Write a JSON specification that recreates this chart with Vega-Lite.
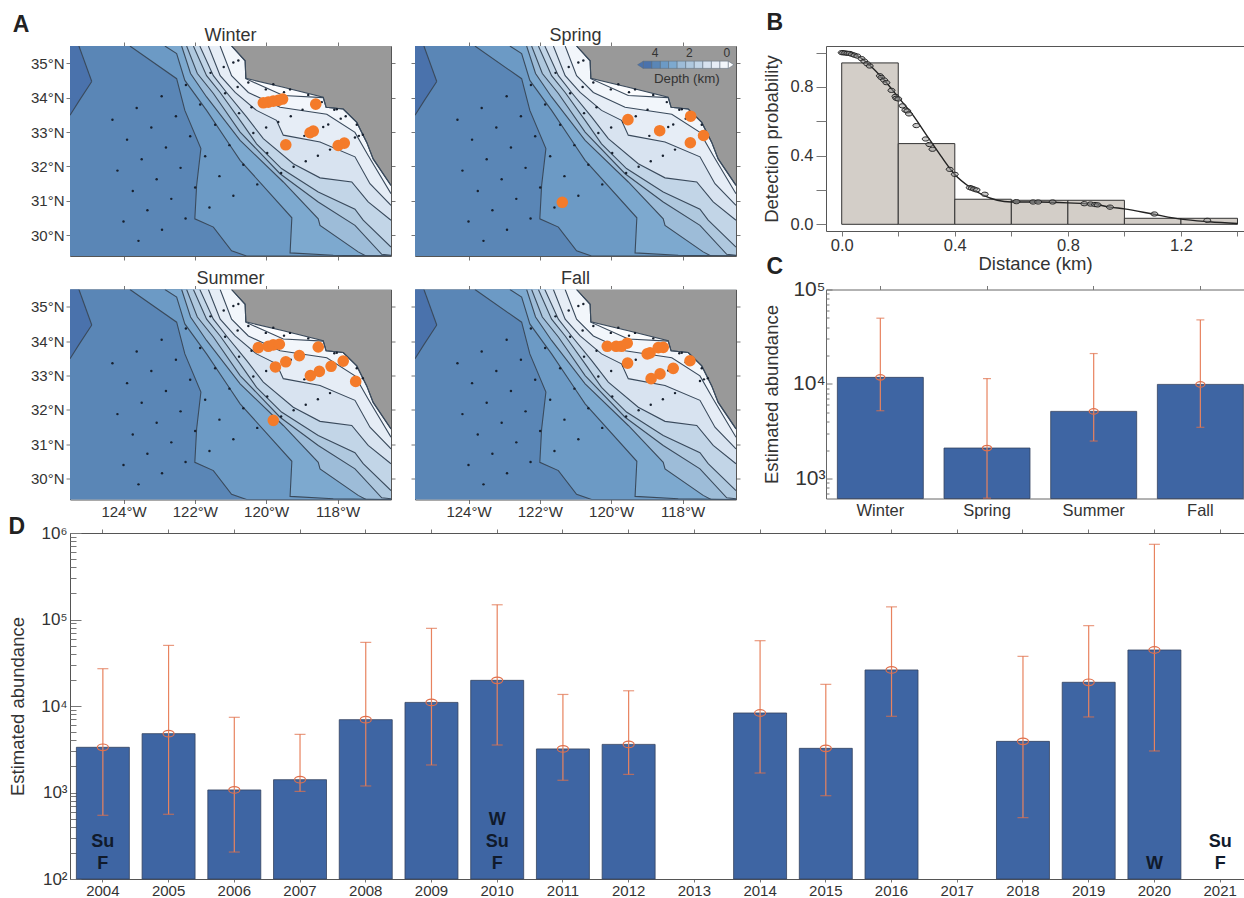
{"$schema":"https://vega.github.io/schema/vega-lite/v6.json","background":"white","padding":{"left":8,"top":11,"right":0,"bottom":0},"autosize":{"type":"pad"},
"config":{"font":"Liberation Sans","view":{"stroke":null},"axis":{"grid":false,"domainColor":"#555","tickColor":"#777","labelColor":"#333","titleColor":"#333","labelFontSize":15,"titleFontSize":18,"titleFontWeight":"normal","tickSize":4,"zindex":1,"labelOverlap":false,"labelFlush":false}},
"datasets":{
"abund":[{"year":"2004","est":3330,"lo":545,"hi":27000},{"year":"2005","est":4790,"lo":560,"hi":50200},{"year":"2006","est":1070,"lo":205,"hi":7400},{"year":"2007","est":1406,"lo":1030,"hi":4700},{"year":"2008","est":6950,"lo":1190,"hi":54400},{"year":"2009","est":11000,"lo":2080,"hi":79000},{"year":"2010","est":19800,"lo":3540,"hi":148000},{"year":"2011","est":3190,"lo":1385,"hi":13600},{"year":"2012","est":3600,"lo":1620,"hi":15000},{"year":"2014","est":8300,"lo":1680,"hi":56900},{"year":"2015","est":3240,"lo":918,"hi":17800},{"year":"2016","est":26100,"lo":7600,"hi":140000},{"year":"2018","est":3900,"lo":512,"hi":37500},{"year":"2019","est":18800,"lo":7470,"hi":84900},{"year":"2020","est":44400,"lo":3020,"hi":740000}],
"bands":[
{"lvl":"b1","seq":0,"lon":-125.5,"lat":29.4,"top":35.5},{"lvl":"b1","seq":1,"lon":-116.5,"lat":29.4,"top":35.5},
{"lvl":"b0","seq":0,"lon":-125.5,"lat":33.49,"top":35.5},{"lvl":"b0","seq":1,"lon":-125.25,"lat":33.9,"top":35.5},{"lvl":"b0","seq":2,"lon":-124.89,"lat":34.47,"top":34.47},
{"lvl":"b0a","seq":0,"lon":-125.25,"lat":35.5,"top":35.5},{"lvl":"b0a","seq":1,"lon":-124.89,"lat":34.47,"top":34.47},
{"lvl":"c1","seq":0,"lon":-123.82,"lat":35.5,"top":35.5},{"lvl":"c1","seq":1,"lon":-122.51,"lat":34.55,"top":35.5},{"lvl":"c1","seq":2,"lon":-122.28,"lat":33.63,"top":35.5},{"lvl":"c1","seq":3,"lon":-121.83,"lat":32.52,"top":35.5},{"lvl":"c1","seq":4,"lon":-121.95,"lat":31.45,"top":35.5},{"lvl":"c1","seq":5,"lon":-122.0,"lat":30.48,"top":35.5},{"lvl":"c1","seq":6,"lon":-121.48,"lat":30.24,"top":35.5},{"lvl":"c1","seq":7,"lon":-120.97,"lat":29.55,"top":35.5},{"lvl":"c1","seq":8,"lon":-120.55,"lat":29.4,"top":35.5},{"lvl":"c1","seq":9,"lon":-116.5,"lat":29.4,"top":35.5},
{"lvl":"c2","seq":0,"lon":-122.84,"lat":35.5,"top":35.5},{"lvl":"c2","seq":1,"lon":-122.51,"lat":35.28,"top":35.5},{"lvl":"c2","seq":2,"lon":-122.28,"lat":34.5,"top":35.5},{"lvl":"c2","seq":3,"lon":-121.67,"lat":33.63,"top":35.5},{"lvl":"c2","seq":4,"lon":-121.01,"lat":32.61,"top":35.5},{"lvl":"c2","seq":5,"lon":-120.73,"lat":32.18,"top":35.5},{"lvl":"c2","seq":6,"lon":-119.28,"lat":30.51,"top":35.5},{"lvl":"c2","seq":7,"lon":-119.33,"lat":29.49,"top":35.5},{"lvl":"c2","seq":8,"lon":-118.12,"lat":29.42,"top":35.5},{"lvl":"c2","seq":9,"lon":-116.5,"lat":29.4,"top":35.5},
{"lvl":"c3","seq":0,"lon":-122.37,"lat":35.5,"top":35.5},{"lvl":"c3","seq":1,"lon":-122.12,"lat":34.7,"top":35.5},{"lvl":"c3","seq":2,"lon":-121.67,"lat":34.02,"top":35.5},{"lvl":"c3","seq":3,"lon":-120.73,"lat":32.76,"top":35.5},{"lvl":"c3","seq":4,"lon":-119.52,"lat":31.55,"top":35.5},{"lvl":"c3","seq":5,"lon":-118.54,"lat":30.48,"top":35.5},{"lvl":"c3","seq":6,"lon":-118.49,"lat":30.29,"top":35.5},{"lvl":"c3","seq":7,"lon":-117.42,"lat":29.52,"top":35.5},{"lvl":"c3","seq":8,"lon":-117.2,"lat":29.4,"top":35.5},{"lvl":"c3","seq":9,"lon":-116.5,"lat":29.4,"top":35.5},
{"lvl":"c4","seq":0,"lon":-122.23,"lat":35.5,"top":35.5},{"lvl":"c4","seq":1,"lon":-121.93,"lat":34.7,"top":35.5},{"lvl":"c4","seq":2,"lon":-121.48,"lat":34.12,"top":35.5},{"lvl":"c4","seq":3,"lon":-120.73,"lat":33.0,"top":35.5},{"lvl":"c4","seq":4,"lon":-119.61,"lat":31.79,"top":35.5},{"lvl":"c4","seq":5,"lon":-118.54,"lat":30.97,"top":35.5},{"lvl":"c4","seq":6,"lon":-117.51,"lat":30.29,"top":35.5},{"lvl":"c4","seq":7,"lon":-116.76,"lat":29.45,"top":35.5},{"lvl":"c4","seq":8,"lon":-116.5,"lat":29.42,"top":35.5},
{"lvl":"c5","seq":0,"lon":-122.04,"lat":35.5,"top":35.5},{"lvl":"c5","seq":1,"lon":-121.67,"lat":34.64,"top":35.5},{"lvl":"c5","seq":2,"lon":-121.29,"lat":34.15,"top":35.5},{"lvl":"c5","seq":3,"lon":-120.73,"lat":33.34,"top":35.5},{"lvl":"c5","seq":4,"lon":-120.27,"lat":32.66,"top":35.5},{"lvl":"c5","seq":5,"lon":-119.57,"lat":31.94,"top":35.5},{"lvl":"c5","seq":6,"lon":-118.54,"lat":31.26,"top":35.5},{"lvl":"c5","seq":7,"lon":-117.51,"lat":30.76,"top":35.5},{"lvl":"c5","seq":8,"lon":-117.28,"lat":30.44,"top":35.5},{"lvl":"c5","seq":9,"lon":-116.5,"lat":29.66,"top":35.5},
{"lvl":"c6","seq":0,"lon":-121.86,"lat":35.5,"top":35.5},{"lvl":"c6","seq":1,"lon":-121.48,"lat":34.64,"top":35.5},{"lvl":"c6","seq":2,"lon":-121.11,"lat":34.15,"top":35.5},{"lvl":"c6","seq":3,"lon":-120.55,"lat":33.44,"top":35.5},{"lvl":"c6","seq":4,"lon":-120.08,"lat":32.81,"top":35.5},{"lvl":"c6","seq":5,"lon":-119.24,"lat":32.08,"top":35.5},{"lvl":"c6","seq":6,"lon":-118.49,"lat":31.67,"top":35.5},{"lvl":"c6","seq":7,"lon":-117.6,"lat":31.55,"top":35.5},{"lvl":"c6","seq":8,"lon":-117.14,"lat":30.97,"top":35.5},{"lvl":"c6","seq":9,"lon":-116.5,"lat":30.44,"top":35.5},
{"lvl":"c7","seq":0,"lon":-121.62,"lat":35.5,"top":35.5},{"lvl":"c7","seq":1,"lon":-121.29,"lat":34.64,"top":35.5},{"lvl":"c7","seq":2,"lon":-120.87,"lat":34.15,"top":35.5},{"lvl":"c7","seq":3,"lon":-120.27,"lat":33.63,"top":35.5},{"lvl":"c7","seq":4,"lon":-119.71,"lat":33.34,"top":35.5},{"lvl":"c7","seq":5,"lon":-119.52,"lat":32.91,"top":35.5},{"lvl":"c7","seq":6,"lon":-118.49,"lat":32.71,"top":35.5},{"lvl":"c7","seq":7,"lon":-117.51,"lat":32.28,"top":35.5},{"lvl":"c7","seq":8,"lon":-117.09,"lat":31.5,"top":35.5},{"lvl":"c7","seq":9,"lon":-116.5,"lat":30.87,"top":35.5},
{"lvl":"c8","seq":0,"lon":-121.29,"lat":35.5,"top":35.5},{"lvl":"c8","seq":1,"lon":-120.97,"lat":34.64,"top":35.5},{"lvl":"c8","seq":2,"lon":-120.5,"lat":34.15,"top":35.5},{"lvl":"c8","seq":3,"lon":-119.61,"lat":33.72,"top":35.5},{"lvl":"c8","seq":4,"lon":-118.96,"lat":33.62,"top":35.5},{"lvl":"c8","seq":5,"lon":-118.3,"lat":33.52,"top":35.5},{"lvl":"c8","seq":6,"lon":-117.51,"lat":32.99,"top":35.5},{"lvl":"c8","seq":7,"lon":-117.14,"lat":32.32,"top":35.5},{"lvl":"c8","seq":8,"lon":-116.5,"lat":31.21,"top":35.5},
{"lvl":"c9","seq":0,"lon":-120.97,"lat":35.5,"top":35.5},{"lvl":"c9","seq":1,"lon":-120.59,"lat":35.07,"top":35.5},{"lvl":"c9","seq":2,"lon":-120.57,"lat":34.55,"top":35.5},{"lvl":"c9","seq":3,"lon":-119.52,"lat":34.06,"top":35.5},{"lvl":"c9","seq":4,"lon":-118.4,"lat":34.0,"top":35.5},{"lvl":"c9","seq":5,"lon":-118.32,"lat":33.72,"top":35.5},{"lvl":"c9","seq":6,"lon":-117.84,"lat":33.67,"top":35.5},{"lvl":"c9","seq":7,"lon":-117.46,"lat":33.28,"top":35.5},{"lvl":"c9","seq":8,"lon":-117.18,"lat":32.7,"top":35.5},{"lvl":"c9","seq":9,"lon":-117.0,"lat":32.22,"top":35.5},{"lvl":"c9","seq":10,"lon":-116.5,"lat":31.45,"top":35.5},
{"lvl":"z","seq":0,"lon":-120.97,"lat":35.5,"top":35.5},{"lvl":"z","seq":1,"lon":-120.59,"lat":35.07,"top":35.5},{"lvl":"z","seq":2,"lon":-120.57,"lat":34.56,"top":35.5},{"lvl":"z","seq":3,"lon":-119.52,"lat":34.3,"top":35.5},{"lvl":"z","seq":4,"lon":-118.4,"lat":34.01,"top":35.5},{"lvl":"z","seq":5,"lon":-118.32,"lat":33.72,"top":35.5},{"lvl":"z","seq":6,"lon":-117.84,"lat":33.67,"top":35.5},{"lvl":"z","seq":7,"lon":-117.46,"lat":33.28,"top":35.5},{"lvl":"z","seq":8,"lon":-117.18,"lat":32.7,"top":35.5},{"lvl":"z","seq":9,"lon":-117.0,"lat":32.22,"top":35.5},{"lvl":"z","seq":10,"lon":-116.5,"lat":31.45,"top":35.5}
],
"stations":[{"lon":-123.58,"lat":29.84},{"lon":-124.0,"lat":30.4},{"lon":-122.92,"lat":30.16},{"lon":-123.33,"lat":30.73},{"lon":-122.26,"lat":30.49},{"lon":-123.74,"lat":31.29},{"lon":-122.66,"lat":31.06},{"lon":-124.17,"lat":31.88},{"lon":-123.07,"lat":31.63},{"lon":-121.99,"lat":31.39},{"lon":-121.59,"lat":30.81},{"lon":-120.92,"lat":31.15},{"lon":-120.25,"lat":31.48},{"lon":-121.31,"lat":31.72},{"lon":-122.4,"lat":31.96},{"lon":-123.49,"lat":32.21},{"lon":-122.81,"lat":32.55},{"lon":-123.9,"lat":32.78},{"lon":-123.22,"lat":33.13},{"lon":-122.13,"lat":32.88},{"lon":-121.71,"lat":32.3},{"lon":-120.64,"lat":32.05},{"lon":-121.03,"lat":32.62},{"lon":-121.43,"lat":33.21},{"lon":-122.53,"lat":33.46},{"lon":-123.63,"lat":33.7},{"lon":-124.31,"lat":33.36},{"lon":-122.93,"lat":34.04},{"lon":-121.85,"lat":33.8},{"lon":-122.25,"lat":34.37},{"lon":-121.15,"lat":34.13},{"lon":-120.76,"lat":33.55},{"lon":-120.36,"lat":32.97},{"lon":-119.97,"lat":32.39},{"lon":-119.58,"lat":31.81},{"lon":-119.23,"lat":31.99},{"lon":-118.89,"lat":32.15},{"lon":-118.55,"lat":32.31},{"lon":-118.21,"lat":32.49},{"lon":-119.31,"lat":33.46},{"lon":-120.0,"lat":33.13},{"lon":-120.41,"lat":33.72},{"lon":-120.8,"lat":34.31},{"lon":-121.19,"lat":34.89},{"lon":-121.56,"lat":34.72},{"lon":-120.01,"lat":34.24},{"lon":-119.5,"lat":34.16},{"lon":-118.98,"lat":33.65},{"lon":-118.4,"lat":33.15},{"lon":-118.26,"lat":33.22},{"lon":-118.93,"lat":32.89},{"lon":-118.09,"lat":33.65},{"lon":-117.91,"lat":33.39},{"lon":-117.77,"lat":33.46},{"lon":-117.46,"lat":33.21},{"lon":-117.51,"lat":32.84},{"lon":-117.29,"lat":32.92},{"lon":-117.4,"lat":32.89},{"lon":-120.5,"lat":34.44},{"lon":-120.92,"lat":35.02},{"lon":-120.78,"lat":35.08},{"lon":-119.8,"lat":34.39},{"lon":-119.33,"lat":34.24},{"lon":-118.82,"lat":34.08},{"lon":-118.44,"lat":33.87},{"lon":-119.66,"lat":33.29},{"lon":-118.02,"lat":33.66}]
},
"concat":[
{"width":321,"height":210,"resolve":{"axis":{"x":"independent","y":"independent"}},
"encoding":{"x":{"field":"lon","type":"quantitative","scale":{"domain":[-125.5,-116.5],"nice":false,"zero":false},"axis":null},"y":{"field":"lat","type":"quantitative","scale":{"domain":[29.4,35.5],"nice":false,"zero":false},"axis":null,"stack":null}},
"layer":[
{"data":{"name":"bands"},"mark":{"type":"area"},"encoding":{"x":{"field":"lon","type":"quantitative","scale":{"domain":[-125.5,-116.5],"nice":false,"zero":false},"axis":{"orient":"bottom","title":null,"values":[-124,-122,-120,-118],"labels":false}},"y":{"field":"lat","type":"quantitative","scale":{"domain":[29.4,35.5],"nice":false,"zero":false},"stack":null,"axis":{"orient":"left","title":null,"values":[30,31,32,33,34,35],"labelExpr":"datum.value+'°N'"}},"y2":{"field":"top"},"color":{"field":"lvl","type":"nominal","legend":null,"scale":{"domain":["b0","b0a","b1","c1","c2","c3","c4","c5","c6","c7","c8","c9","z"],"range":["#4a72ac","#4a72ac","#5a86b6","#6c9ac5","#7da9cf","#9dbcd8","#afc8de","#c2d5e7","#d8e3f0","#e6edf6","#f2f6fb","#fbfcfe","#999999"]}},"order":{"value":null}}},
{"data":{"name":"bands"},"transform":[{"filter":"datum.lvl!='b1'"}],"mark":{"type":"line","clip":true,"color":"#3a4a5c","strokeWidth":1.1},"encoding":{"x":{"field":"lon","type":"quantitative","scale":{"domain":[-125.5,-116.5],"nice":false,"zero":false},"axis":{"orient":"top","title":null,"values":[-124,-122,-120,-118],"labels":false}},"y":{"field":"lat","type":"quantitative","scale":{"domain":[29.4,35.5],"nice":false,"zero":false},"stack":null,"axis":{"orient":"right","title":null,"values":[30,31,32,33,34,35],"labels":false}},"detail":{"field":"lvl"},"order":{"field":"seq"}}},
{"data":{"name":"stations"},"mark":{"type":"point","filled":true,"size":6,"color":"#17202e","opacity":1}},
{"data":{"values":[{"lon":-120.08,"lat":33.85},{"lon":-119.94,"lat":33.87},{"lon":-119.8,"lat":33.9},{"lon":-119.66,"lat":33.92},{"lon":-119.54,"lat":33.96},{"lon":-118.61,"lat":33.81},{"lon":-118.77,"lat":32.98},{"lon":-118.68,"lat":33.03},{"lon":-119.45,"lat":32.63},{"lon":-117.98,"lat":32.61},{"lon":-117.81,"lat":32.68}]},"mark":{"type":"point","filled":true,"size":135,"color":"#f47b2a","opacity":1}},
{"data":{"values":[{"lon":-121,"lat":35.8,"label":"Winter"}]},"mark":{"type":"text","fontSize":18,"color":"#333"},"encoding":{"text":{"field":"label"}}},
{"data":{"values":[{"lon":-126.87,"lat":36.1,"label":"A"}]},"mark":{"type":"text","fontSize":23,"fontWeight":"bold","color":"#222"},"encoding":{"text":{"field":"label"}}}
]},
{"width":387,"height":210,"resolve":{"axis":{"x":"independent","y":"independent"}},
"encoding":{"x":{"field":"lon","type":"quantitative","scale":{"domain":[-125.5,-116.5],"range":[0,321],"nice":false,"zero":false},"axis":null},"y":{"field":"lat","type":"quantitative","scale":{"domain":[29.4,35.5],"nice":false,"zero":false},"axis":null,"stack":null}},
"layer":[
{"data":{"name":"bands"},"mark":{"type":"area"},"encoding":{"x":{"field":"lon","type":"quantitative","scale":{"domain":[-125.5,-116.5],"range":[0,321],"nice":false,"zero":false},"axis":{"orient":"bottom","title":null,"values":[-124,-122,-120,-118],"labels":false}},"y":{"field":"lat","type":"quantitative","scale":{"domain":[29.4,35.5],"nice":false,"zero":false},"stack":null,"axis":{"orient":"left","title":null,"values":[30,31,32,33,34,35],"labels":false}},"y2":{"field":"top"},"color":{"field":"lvl","type":"nominal","legend":null,"scale":{"domain":["b0","b0a","b1","c1","c2","c3","c4","c5","c6","c7","c8","c9","z"],"range":["#4a72ac","#4a72ac","#5a86b6","#6c9ac5","#7da9cf","#9dbcd8","#afc8de","#c2d5e7","#d8e3f0","#e6edf6","#f2f6fb","#fbfcfe","#999999"]}},"order":{"value":null}}},
{"data":{"name":"bands"},"transform":[{"filter":"datum.lvl!='b1'"}],"mark":{"type":"line","clip":true,"color":"#3a4a5c","strokeWidth":1.1},"encoding":{"x":{"field":"lon","type":"quantitative","scale":{"domain":[-125.5,-116.5],"range":[0,321],"nice":false,"zero":false},"axis":{"orient":"top","title":null,"values":[-124,-122,-120,-118],"labels":false}},"y":{"field":"lat","type":"quantitative","scale":{"domain":[29.4,35.5],"nice":false,"zero":false},"stack":null,"axis":{"orient":"right","title":null,"offset":-66,"values":[30,31,32,33,34,35],"labels":false}},"detail":{"field":"lvl"},"order":{"field":"seq"}}},
{"data":{"name":"stations"},"mark":{"type":"point","filled":true,"size":6,"color":"#17202e","opacity":1}},
{"data":{"values":[{"lon":-119.53,"lat":33.36},{"lon":-118.64,"lat":33.04},{"lon":-117.77,"lat":33.46},{"lon":-117.41,"lat":32.9},{"lon":-117.78,"lat":32.69},{"lon":-121.37,"lat":30.96}]},"mark":{"type":"point","filled":true,"size":135,"color":"#f47b2a","opacity":1}},
{"data":{"values":[{"lon":-121,"lat":35.8,"label":"Spring"}]},"mark":{"type":"text","fontSize":18,"color":"#333"},"encoding":{"text":{"field":"label"}}},
{"data":{"values":[{"c":"b0","lon":-119.1,"lon2":-118.86,"lat":34.85,"lat2":35.06},{"c":"b1","lon":-118.86,"lon2":-118.62,"lat":34.85,"lat2":35.06},{"c":"c1","lon":-118.62,"lon2":-118.39,"lat":34.85,"lat2":35.06},{"c":"c2","lon":-118.39,"lon2":-118.15,"lat":34.85,"lat2":35.06},{"c":"c3","lon":-118.15,"lon2":-117.91,"lat":34.85,"lat2":35.06},{"c":"c4","lon":-117.91,"lon2":-117.67,"lat":34.85,"lat2":35.06},{"c":"c5","lon":-117.67,"lon2":-117.43,"lat":34.85,"lat2":35.06},{"c":"c6","lon":-117.43,"lon2":-117.19,"lat":34.85,"lat2":35.06},{"c":"c7","lon":-117.19,"lon2":-116.95,"lat":34.85,"lat2":35.06},{"c":"c8","lon":-116.95,"lon2":-116.715,"lat":34.85,"lat2":35.06}]},"mark":{"type":"rect","stroke":"#5a6a7a","strokeWidth":0.5},"encoding":{"x2":{"field":"lon2"},"y2":{"field":"lat2"},"color":{"field":"c","type":"nominal","legend":null}}},
{"data":{"values":[{"c":"b0","lon":-119.26,"lat":34.955,"top":34.955},{"c":"b0","lon":-119.1,"lat":34.85,"top":35.06},{"c":"c9","lon":-116.715,"lat":34.85,"top":35.06},{"c":"c9","lon":-116.56,"lat":34.955,"top":34.955}]},"mark":{"type":"area","stroke":"#5a6a7a","strokeWidth":0.5},"encoding":{"y2":{"field":"top"},"color":{"field":"c","type":"nominal","legend":null}}},
{"data":{"values":[{"lon":-118.77,"lat":35.3,"label":"4"},{"lon":-117.81,"lat":35.3,"label":"2"},{"lon":-116.76,"lat":35.3,"label":"0"}]},"mark":{"type":"text","fontSize":12,"color":"#333"},"encoding":{"text":{"field":"label"}}},
{"data":{"values":[{"lon":-117.88,"lat":34.55,"label":"Depth (km)"}]},"mark":{"type":"text","fontSize":13.3,"color":"#333"},"encoding":{"text":{"field":"label"}}}
]},
{"width":418,"height":185,"view":{"stroke":"#555"},"resolve":{"axis":{"x":"independent","y":"independent"}},
"layer":[
{"data":{"values":[{"d":0,"d2":0.2,"p0":0,"p":0.94},{"d":0.2,"d2":0.4,"p0":0,"p":0.47},{"d":0.4,"d2":0.6,"p0":0,"p":0.146},{"d":0.6,"d2":0.8,"p0":0,"p":0.14},{"d":0.8,"d2":1.0,"p0":0,"p":0.14},{"d":1.0,"d2":1.2,"p0":0,"p":0.035},{"d":1.2,"d2":1.4,"p0":0,"p":0.035}]},"mark":{"type":"rect","fill":"#d3cec8","stroke":"#333","strokeWidth":1},"encoding":{"x":{"field":"d","type":"quantitative","scale":{"domain":[-0.0556,1.423],"nice":false,"zero":false},"axis":{"title":"Distance (km)","titleFontSize":18.5,"titlePadding":1,"labelFontSize":16.5,"labelPadding":1,"domain":false,"tickSize":5,"values":[0,0.2,0.4,0.6,0.8,1.0,1.2,1.4],"labelExpr":"round(datum.value*10)%4==0?format(datum.value,'.1f'):''"}},"x2":{"field":"d2"},"y":{"field":"p0","type":"quantitative","scale":{"domain":[-0.039,1.0385],"nice":false,"zero":false},"axis":{"title":"Detection probability","titleFontSize":18.5,"titlePadding":9,"labelFontSize":16.5,"labelPadding":3,"domain":false,"tickSize":10,"values":[0,0.2,0.4,0.6,0.8,1.0],"labelExpr":"(round(datum.value*10)%4==0&&datum.value<1)?format(datum.value,'.1f'):''"}},"y2":{"field":"p"}}},
{"data":{"values":[{"d":0,"p":1},{"d":0.05,"p":0.985},{"d":0.1,"p":0.925},{"d":0.15,"p":0.84},{"d":0.2,"p":0.74},{"d":0.25,"p":0.64},{"d":0.3,"p":0.52},{"d":0.35,"p":0.4},{"d":0.4,"p":0.29},{"d":0.45,"p":0.22},{"d":0.5,"p":0.17},{"d":0.55,"p":0.14},{"d":0.6,"p":0.13},{"d":0.7,"p":0.13},{"d":0.8,"p":0.125},{"d":0.9,"p":0.115},{"d":0.95,"p":0.1},{"d":1.0,"p":0.09},{"d":1.1,"p":0.06},{"d":1.2,"p":0.03},{"d":1.3,"p":0.015},{"d":1.4,"p":0.005}]},"mark":{"type":"line","color":"#222","strokeWidth":1.4,"interpolate":"monotone"},"encoding":{"x":{"field":"d","type":"quantitative","axis":null,"scale":{"domain":[-0.0556,1.423],"nice":false,"zero":false}},"y":{"field":"p","type":"quantitative","axis":null,"scale":{"domain":[-0.039,1.0385],"nice":false,"zero":false}}}},
{"data":{"values":[{"d":0.0,"p":1},{"d":0.005,"p":0.999},{"d":0.012,"p":0.998},{"d":0.02,"p":0.996},{"d":0.028,"p":0.995},{"d":0.036,"p":0.99},{"d":0.045,"p":0.985},{"d":0.055,"p":0.98},{"d":0.07,"p":0.965},{"d":0.08,"p":0.95},{"d":0.09,"p":0.935},{"d":0.099,"p":0.922},{"d":0.135,"p":0.865},{"d":0.14,"p":0.855},{"d":0.15,"p":0.84},{"d":0.158,"p":0.825},{"d":0.176,"p":0.78},{"d":0.19,"p":0.745},{"d":0.193,"p":0.734},{"d":0.2,"p":0.73},{"d":0.215,"p":0.69},{"d":0.225,"p":0.665},{"d":0.232,"p":0.66},{"d":0.238,"p":0.643},{"d":0.264,"p":0.575},{"d":0.297,"p":0.497},{"d":0.31,"p":0.465},{"d":0.321,"p":0.437},{"d":0.382,"p":0.32},{"d":0.4,"p":0.291},{"d":0.453,"p":0.214},{"d":0.46,"p":0.21},{"d":0.468,"p":0.205},{"d":0.477,"p":0.2},{"d":0.506,"p":0.175},{"d":0.618,"p":0.132},{"d":0.677,"p":0.13},{"d":0.695,"p":0.13},{"d":0.746,"p":0.13},{"d":0.858,"p":0.12},{"d":0.88,"p":0.118},{"d":0.896,"p":0.115},{"d":0.905,"p":0.113},{"d":0.949,"p":0.1},{"d":1.106,"p":0.06},{"d":1.293,"p":0.023}]},"mark":{"type":"point","shape":"M-1,0A1,0.6 0 1,1 1,0A1,0.6 0 1,1 -1,0Z","size":49,"filled":true,"fill":"#999","fillOpacity":0.5,"stroke":"#222","strokeWidth":1,"opacity":1},"encoding":{"x":{"field":"d","type":"quantitative","axis":null,"scale":{"domain":[-0.0556,1.423],"nice":false,"zero":false}},"y":{"field":"p","type":"quantitative","axis":null,"scale":{"domain":[-0.039,1.0385],"nice":false,"zero":false}}}},
{"data":{"values":[{"d":-0.237,"p":1.172,"label":"B"},{"d":-0.237,"p":-0.249,"label":"C"}]},"mark":{"type":"text","fontSize":23,"fontWeight":"bold","color":"#222"},"encoding":{"x":{"field":"d","type":"quantitative","axis":null,"scale":{"domain":[-0.0556,1.423],"nice":false,"zero":false}},"y":{"field":"p","type":"quantitative","axis":null,"scale":{"domain":[-0.039,1.0385],"nice":false,"zero":false}},"text":{"field":"label"}}}
]},
{"width":321,"height":210,"resolve":{"axis":{"x":"independent","y":"independent"}},
"encoding":{"x":{"field":"lon","type":"quantitative","scale":{"domain":[-125.5,-116.5],"nice":false,"zero":false},"axis":null},"y":{"field":"lat","type":"quantitative","scale":{"domain":[29.4,35.5],"nice":false,"zero":false},"axis":null,"stack":null}},
"layer":[
{"data":{"name":"bands"},"mark":{"type":"area"},"encoding":{"x":{"field":"lon","type":"quantitative","scale":{"domain":[-125.5,-116.5],"nice":false,"zero":false},"axis":{"orient":"bottom","title":null,"values":[-124,-122,-120,-118],"labelExpr":"abs(datum.value)+'°W'","labelPadding":1}},"y":{"field":"lat","type":"quantitative","scale":{"domain":[29.4,35.5],"nice":false,"zero":false},"stack":null,"axis":{"orient":"left","title":null,"values":[30,31,32,33,34,35],"labelExpr":"datum.value+'°N'"}},"y2":{"field":"top"},"color":{"field":"lvl","type":"nominal","legend":null,"scale":{"domain":["b0","b0a","b1","c1","c2","c3","c4","c5","c6","c7","c8","c9","z"],"range":["#4a72ac","#4a72ac","#5a86b6","#6c9ac5","#7da9cf","#9dbcd8","#afc8de","#c2d5e7","#d8e3f0","#e6edf6","#f2f6fb","#fbfcfe","#999999"]}},"order":{"value":null}}},
{"data":{"name":"bands"},"transform":[{"filter":"datum.lvl!='b1'"}],"mark":{"type":"line","clip":true,"color":"#3a4a5c","strokeWidth":1.1},"encoding":{"x":{"field":"lon","type":"quantitative","scale":{"domain":[-125.5,-116.5],"nice":false,"zero":false},"axis":{"orient":"top","title":null,"values":[-124,-122,-120,-118],"labels":false}},"y":{"field":"lat","type":"quantitative","scale":{"domain":[29.4,35.5],"nice":false,"zero":false},"stack":null,"axis":{"orient":"right","title":null,"values":[30,31,32,33,34,35],"labels":false}},"detail":{"field":"lvl"},"order":{"field":"seq"}}},
{"data":{"name":"stations"},"mark":{"type":"point","filled":true,"size":6,"color":"#17202e","opacity":1}},
{"data":{"values":[{"lon":-120.22,"lat":33.81},{"lon":-119.94,"lat":33.85},{"lon":-119.8,"lat":33.89},{"lon":-119.63,"lat":33.91},{"lon":-118.54,"lat":33.83},{"lon":-119.07,"lat":33.58},{"lon":-119.45,"lat":33.4},{"lon":-119.74,"lat":33.25},{"lon":-117.84,"lat":33.42},{"lon":-118.18,"lat":33.27},{"lon":-118.51,"lat":33.12},{"lon":-118.76,"lat":33.0},{"lon":-117.49,"lat":32.83},{"lon":-119.8,"lat":31.7}]},"mark":{"type":"point","filled":true,"size":135,"color":"#f47b2a","opacity":1}},
{"data":{"values":[{"lon":-121,"lat":35.8,"label":"Summer"}]},"mark":{"type":"text","fontSize":18,"color":"#333"},"encoding":{"text":{"field":"label"}}},
{"data":{"values":[{"lon":-126.99,"lat":28.59,"label":"D"}]},"mark":{"type":"text","fontSize":23,"fontWeight":"bold","color":"#222"},"encoding":{"text":{"field":"label"}}}
]},
{"width":387,"height":210,"resolve":{"axis":{"x":"independent","y":"independent"}},
"encoding":{"x":{"field":"lon","type":"quantitative","scale":{"domain":[-125.5,-116.5],"range":[0,321],"nice":false,"zero":false},"axis":null},"y":{"field":"lat","type":"quantitative","scale":{"domain":[29.4,35.5],"nice":false,"zero":false},"axis":null,"stack":null}},
"layer":[
{"data":{"name":"bands"},"mark":{"type":"area"},"encoding":{"x":{"field":"lon","type":"quantitative","scale":{"domain":[-125.5,-116.5],"range":[0,321],"nice":false,"zero":false},"axis":{"orient":"bottom","title":null,"values":[-124,-122,-120,-118],"labelExpr":"abs(datum.value)+'°W'","labelPadding":1}},"y":{"field":"lat","type":"quantitative","scale":{"domain":[29.4,35.5],"nice":false,"zero":false},"stack":null,"axis":{"orient":"left","title":null,"values":[30,31,32,33,34,35],"labels":false}},"y2":{"field":"top"},"color":{"field":"lvl","type":"nominal","legend":null,"scale":{"domain":["b0","b0a","b1","c1","c2","c3","c4","c5","c6","c7","c8","c9","z"],"range":["#4a72ac","#4a72ac","#5a86b6","#6c9ac5","#7da9cf","#9dbcd8","#afc8de","#c2d5e7","#d8e3f0","#e6edf6","#f2f6fb","#fbfcfe","#999999"]}},"order":{"value":null}}},
{"data":{"name":"bands"},"transform":[{"filter":"datum.lvl!='b1'"}],"mark":{"type":"line","clip":true,"color":"#3a4a5c","strokeWidth":1.1},"encoding":{"x":{"field":"lon","type":"quantitative","scale":{"domain":[-125.5,-116.5],"range":[0,321],"nice":false,"zero":false},"axis":{"orient":"top","title":null,"values":[-124,-122,-120,-118],"labels":false}},"y":{"field":"lat","type":"quantitative","scale":{"domain":[29.4,35.5],"nice":false,"zero":false},"stack":null,"axis":{"orient":"right","title":null,"offset":-66,"values":[30,31,32,33,34,35],"labels":false}},"detail":{"field":"lvl"},"order":{"field":"seq"}}},
{"data":{"name":"stations"},"mark":{"type":"point","filled":true,"size":6,"color":"#17202e","opacity":1}},
{"data":{"values":[{"lon":-120.11,"lat":33.85},{"lon":-119.86,"lat":33.85},{"lon":-119.71,"lat":33.85},{"lon":-119.55,"lat":33.94},{"lon":-118.99,"lat":33.63},{"lon":-118.91,"lat":33.66},{"lon":-118.68,"lat":33.81},{"lon":-118.54,"lat":33.82},{"lon":-119.54,"lat":33.36},{"lon":-117.79,"lat":33.43},{"lon":-118.26,"lat":33.21},{"lon":-118.63,"lat":33.05},{"lon":-118.88,"lat":32.91}]},"mark":{"type":"point","filled":true,"size":135,"color":"#f47b2a","opacity":1}},
{"data":{"values":[{"lon":-121,"lat":35.8,"label":"Fall"}]},"mark":{"type":"text","fontSize":18,"color":"#333"},"encoding":{"text":{"field":"label"}}}
]},
{"width":418,"height":209,"view":{"stroke":"#666"},
"data":{"values":[{"season":"Winter","est":11750,"lo":5210,"hi":49700},{"season":"Spring","est":2100,"lo":620,"hi":11400},{"season":"Summer","est":5130,"lo":2490,"hi":21000},{"season":"Fall","est":9900,"lo":3480,"hi":47700}]},
"resolve":{"axis":{"x":"independent","y":"independent"}},
"encoding":{"x":{"field":"season","type":"nominal","scale":{"type":"band","domain":["Winter","Spring","Summer","Fall"],"range":[1,427.7],"paddingInner":0.194,"paddingOuter":0.097},"axis":null},"y":{"field":"est","type":"quantitative","stack":null,"scale":{"type":"log","domain":[614,100000],"nice":false},"axis":null}},
"layer":[
{"mark":{"type":"bar","fill":"#3e65a3","stroke":"#33435f","strokeWidth":0.8},"encoding":{"x":{"field":"season","type":"nominal","scale":{"type":"band","domain":["Winter","Spring","Summer","Fall"],"range":[1,427.7],"paddingInner":0.194,"paddingOuter":0.097},"axis":{"orient":"bottom","title":null,"labelAngle":0,"domain":false,"ticks":false,"labelFontSize":16.5,"labelPadding":4}},"y":{"field":"est","type":"quantitative","stack":null,"scale":{"type":"log","domain":[614,100000],"nice":false},"axis":{"orient":"left","domain":false,"title":"Estimated abundance","titleFontSize":18.5,"titlePadding":11,"labelFontSize":21,"labelPadding":7,"values":[1000,10000,100000],"tickSize":-6,"labelExpr":"datum.value==1000?'10³':datum.value==10000?'10⁴':'10⁵'"}}}},
{"mark":{"type":"rule","color":"#e8835f","strokeWidth":1.2},"encoding":{"x":{"field":"season","type":"nominal","scale":{"type":"band","domain":["Winter","Spring","Summer","Fall"],"range":[1,427.7],"paddingInner":0.194,"paddingOuter":0.097},"axis":{"orient":"top","title":null,"labels":false,"domain":false}},"y":{"field":"lo","type":"quantitative","axis":{"orient":"left","title":null,"domain":false,"labels":false,"tickSize":-3,"values":[700,800,900,2000,3000,4000,5000,6000,7000,8000,9000,20000,30000,40000,50000,60000,70000,80000,90000]}},"y2":{"field":"hi"}}},
{"mark":{"type":"tick","color":"#e0704c","size":8,"thickness":1.2},"encoding":{"y":{"field":"hi","type":"quantitative","axis":null}}},
{"mark":{"type":"tick","color":"#e0704c","size":8,"thickness":1.2},"encoding":{"y":{"field":"lo","type":"quantitative","axis":null}}},
{"mark":{"type":"point","shape":"M-1,0A1,0.6 0 1,1 1,0A1,0.6 0 1,1 -1,0Z","size":81,"stroke":"#e0704c","strokeWidth":1.2,"filled":false,"opacity":1}}
]},
{"width":321,"height":346,
"resolve":{"axis":{"x":"independent","y":"independent"}},
"encoding":{"x":{"field":"year","type":"nominal","scale":{"type":"band","domain":["2004","2005","2006","2007","2008","2009","2010","2011","2012","2013","2014","2015","2016","2017","2018","2019","2020","2021"],"range":[0,1183],"paddingInner":0.194,"paddingOuter":0.097},"axis":null},"y":{"field":"est","type":"quantitative","stack":null,"scale":{"type":"log","domain":[100,1000000],"nice":false},"axis":null}},
"layer":[
{"data":{"name":"abund"},"mark":{"type":"bar","fill":"#3e65a3","stroke":"#33435f","strokeWidth":0.8},"encoding":{"x":{"field":"year","type":"nominal","scale":{"type":"band","domain":["2004","2005","2006","2007","2008","2009","2010","2011","2012","2013","2014","2015","2016","2017","2018","2019","2020","2021"],"range":[0,1183],"paddingInner":0.194,"paddingOuter":0.097},"axis":{"orient":"bottom","title":null,"labelAngle":0,"labelFontSize":15,"tickSize":3,"labelPadding":1}},"y":{"field":"est","type":"quantitative","stack":null,"scale":{"type":"log","domain":[100,1000000],"nice":false},"axis":{"orient":"left","title":"Estimated abundance","titleFontSize":18.5,"titlePadding":13,"labelFontSize":17,"labelPadding":14,"values":[100,1000,10000,100000,1000000],"tickSize":-11,"zindex":0,"labelExpr":"datum.value==100?'10²':datum.value==1000?'10³':datum.value==10000?'10⁴':datum.value==100000?'10⁵':'10⁶'"}}}},
{"data":{"name":"abund"},"mark":{"type":"rule","color":"#e8835f","strokeWidth":1.2},"encoding":{"x":{"field":"year","type":"nominal","scale":{"type":"band","domain":["2004","2005","2006","2007","2008","2009","2010","2011","2012","2013","2014","2015","2016","2017","2018","2019","2020","2021"],"range":[0,1183],"paddingInner":0.194,"paddingOuter":0.097},"axis":{"orient":"top","title":null,"labels":false}},"y":{"field":"lo","type":"quantitative","axis":{"orient":"left","title":null,"domain":false,"labels":false,"tickSize":-6,"zindex":0,"values":[200,300,400,500,600,700,800,900,2000,3000,4000,5000,6000,7000,8000,9000,20000,30000,40000,50000,60000,70000,80000,90000,200000,300000,400000,500000,600000,700000,800000,900000]}},"y2":{"field":"hi"}}},
{"data":{"name":"abund"},"mark":{"type":"tick","color":"#e0704c","size":11,"thickness":1.2},"encoding":{"y":{"field":"hi","type":"quantitative","axis":null}}},
{"data":{"name":"abund"},"mark":{"type":"tick","color":"#e0704c","size":11,"thickness":1.2},"encoding":{"y":{"field":"lo","type":"quantitative","axis":null}}},
{"data":{"name":"abund"},"mark":{"type":"point","shape":"M-1,0A1,0.6 0 1,1 1,0A1,0.6 0 1,1 -1,0Z","size":121,"stroke":"#e0704c","strokeWidth":1.2,"filled":false,"opacity":1}},
{"data":{"values":[{"year":"2004","est":265,"label":"Su"},{"year":"2004","est":150,"label":"F"},{"year":"2010","est":485,"label":"W"},{"year":"2010","est":265,"label":"Su"},{"year":"2010","est":150,"label":"F"},{"year":"2020","est":150,"label":"W"},{"year":"2021","est":265,"label":"Su"},{"year":"2021","est":150,"label":"F"}]},"mark":{"type":"text","fontSize":18,"fontWeight":"bold","color":"#101a2b"},"encoding":{"text":{"field":"label"}}}
]}
],
"columns":3,"bounds":"flush","spacing":{"row":33.5,"column":24}}
